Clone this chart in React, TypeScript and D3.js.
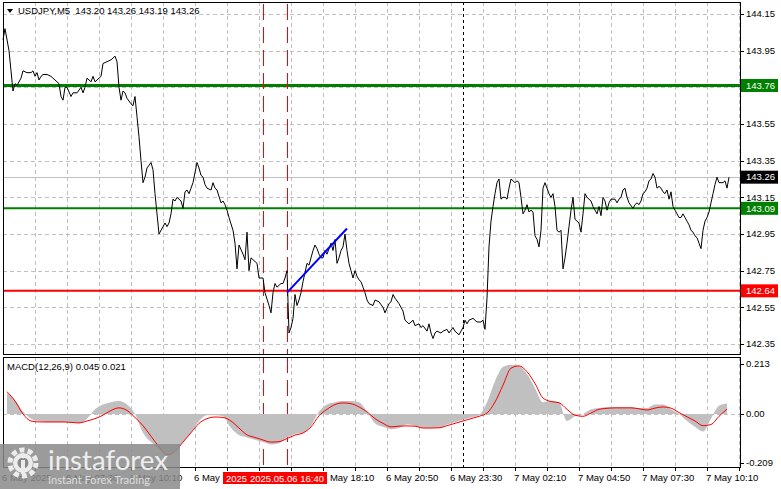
import React from "react"
import * as d3 from "d3"

// M5 bars counted from 6 May 2025 04:50, [bar, close]
const priceSeries: [number, number][] = [
  [0, 144.01], [1, 144.07], [3, 143.95], [4, 143.84], [5, 143.73], [6, 143.77], [7, 143.76], [9, 143.80],
  [10, 143.84], [12, 143.83], [14, 143.83], [15, 143.84], [16, 143.81], [17, 143.83], [18, 143.79], [19, 143.81],
  [20, 143.82], [22, 143.82], [24, 143.81], [25, 143.80], [27, 143.78], [28, 143.77], [29, 143.70], [30, 143.68],
  [31, 143.75], [32, 143.75], [34, 143.70], [35, 143.72], [37, 143.72], [39, 143.75], [40, 143.72], [41, 143.75],
  [42, 143.80], [44, 143.78], [45, 143.81], [46, 143.78], [48, 143.80], [49, 143.81], [50, 143.88], [52, 143.89],
  [54, 143.90], [55, 143.91], [56, 143.92], [57, 143.89], [58, 143.75], [59, 143.68], [60, 143.73], [61, 143.72],
  [62, 143.69], [64, 143.66], [65, 143.65], [66, 143.70], [67, 143.59], [68, 143.48], [69, 143.35], [70, 143.23],
  [71, 143.26], [72, 143.31], [74, 143.34], [75, 143.30], [76, 143.17], [77, 143.06], [78, 142.95], [80, 142.99],
  [81, 143.01], [82, 142.99], [83, 143.01], [84, 143.06], [85, 143.14], [86, 143.13], [87, 143.15], [89, 143.13],
  [90, 143.09], [91, 143.18], [92, 143.19], [93, 143.17], [94, 143.20], [95, 143.23], [97, 143.34], [98, 143.31],
  [99, 143.27], [100, 143.26], [101, 143.22], [102, 143.20], [104, 143.19], [105, 143.23], [106, 143.20], [107, 143.19],
  [109, 143.12], [110, 143.13], [111, 143.11], [112, 143.08], [113, 143.04], [115, 142.97], [116, 142.90], [117, 142.76],
  [118, 142.89], [120, 142.84], [121, 142.81], [122, 142.96], [123, 142.75], [124, 142.82], [125, 142.81], [127, 142.79],
  [128, 142.71], [130, 142.71], [131, 142.63], [133, 142.56], [134, 142.52], [135, 142.63], [136, 142.68], [137, 142.66],
  [139, 142.68], [140, 142.68], [141, 142.71], [142, 142.75], [143, 142.41], [144, 142.44], [145, 142.49], [146, 142.62],
  [147, 142.56], [148, 142.59], [149, 142.63], [150, 142.69], [151, 142.74], [152, 142.79], [153, 142.78], [154, 142.82],
  [155, 142.86], [156, 142.89], [157, 142.87], [158, 142.84], [159, 142.82], [160, 142.82], [161, 142.86], [162, 142.84],
  [163, 142.87], [164, 142.90], [165, 142.86], [166, 142.92], [167, 142.79], [168, 142.82], [169, 142.86], [170, 142.88],
  [171, 142.95], [172, 142.86], [173, 142.79], [174, 142.75], [175, 142.71], [176, 142.75], [177, 142.72], [178, 142.70],
  [179, 142.69], [180, 142.66], [181, 142.63], [182, 142.59], [183, 142.57], [185, 142.56], [186, 142.59], [188, 142.58],
  [190, 142.55], [191, 142.52], [193, 142.57], [194, 142.58], [195, 142.62], [196, 142.60], [198, 142.57], [200, 142.53],
  [201, 142.48], [203, 142.46], [205, 142.48], [206, 142.45], [208, 142.46], [209, 142.44], [210, 142.45], [212, 142.42],
  [213, 142.46], [214, 142.41], [215, 142.38], [216, 142.41], [217, 142.42], [219, 142.41], [220, 142.42], [222, 142.43],
  [223, 142.41], [225, 142.44], [226, 142.42], [228, 142.40], [229, 142.42], [230, 142.44], [231, 142.48], [232, 142.46],
  [233, 142.48], [235, 142.49], [237, 142.47], [239, 142.47], [240, 142.48], [241, 142.43], [242, 142.60], [243, 142.88],
  [244, 143.02], [245, 143.10], [246, 143.17], [247, 143.23], [248, 143.25], [249, 143.14], [250, 143.15], [251, 143.15],
  [252, 143.14], [253, 143.20], [254, 143.25], [255, 143.24], [256, 143.23], [257, 143.24], [258, 143.23], [259, 143.15],
  [260, 143.06], [261, 143.08], [262, 143.11], [263, 143.07], [264, 143.08], [265, 143.07], [266, 142.94], [267, 142.92],
  [268, 142.88], [269, 142.97], [270, 143.20], [271, 143.23], [272, 143.20], [273, 143.17], [274, 143.15], [275, 143.17],
  [276, 143.10], [277, 142.97], [278, 142.96], [279, 142.97], [280, 142.76], [281, 142.82], [282, 142.90], [283, 142.99],
  [284, 143.08], [285, 143.15], [286, 143.03], [287, 143.02], [288, 143.01], [289, 142.96], [290, 143.06], [291, 143.17],
  [292, 143.15], [293, 143.14], [294, 143.13], [295, 143.10], [296, 143.08], [297, 143.06], [298, 143.10], [299, 143.05],
  [300, 143.15], [301, 143.13], [302, 143.08], [303, 143.12], [304, 143.14], [305, 143.14], [306, 143.14], [307, 143.12],
  [308, 143.14], [309, 143.15], [310, 143.19], [311, 143.20], [312, 143.15], [313, 143.12], [315, 143.09], [316, 143.11],
  [317, 143.12], [318, 143.11], [319, 143.13], [320, 143.17], [321, 143.18], [322, 143.20], [323, 143.24], [324, 143.25],
  [325, 143.28], [326, 143.26], [327, 143.20], [328, 143.21], [329, 143.20], [330, 143.18], [331, 143.17], [332, 143.19],
  [333, 143.14], [334, 143.18], [335, 143.10], [336, 143.08], [337, 143.06], [338, 143.04], [339, 143.04], [340, 143.06],
  [341, 143.04], [342, 143.02], [343, 143.00], [344, 142.97], [345, 142.96], [346, 142.94], [347, 142.93], [348, 142.90],
  [349, 142.87], [350, 142.97], [351, 143.02], [352, 143.04], [353, 143.07], [354, 143.12], [355, 143.17], [356, 143.22],
  [357, 143.26], [358, 143.23], [359, 143.23], [360, 143.23], [361, 143.24], [362, 143.20], [363, 143.26],
]

// MACD(12,26,9), sampled every 4 bars starting at bar 2
const macdMain = [
  0.09, 0.06, 0.01, -0.02, -0.03, -0.035, -0.035, -0.035, -0.035, -0.04, -0.02, 0.02, 0.04, 0.05, 0.055, 0.04,
  0.0, -0.08, -0.12, -0.15, -0.17, -0.16, -0.12, -0.08, -0.03, -0.005, -0.005, -0.01, -0.06, -0.09, -0.10, -0.11,
  -0.12, -0.13, -0.125, -0.10, -0.085, -0.08, -0.05, 0.01, 0.04, 0.05, 0.055, 0.055, 0.05, 0.01, -0.04, -0.055,
  -0.065, -0.06, -0.045, -0.05, -0.06, -0.06, -0.06, -0.045, -0.035, -0.025, -0.015, -0.005, 0.05, 0.14, 0.20, 0.21,
  0.205, 0.17, 0.11, 0.05, 0.055, 0.05, -0.03, -0.01, 0.0, 0.02, 0.025, 0.03, 0.03, 0.03, 0.03, 0.025,
  0.025, 0.04, 0.04, 0.02, 0.0, -0.03, -0.055, -0.075, -0.02, 0.035, 0.045,
]
const macdSignal = [
  0.095, 0.055, 0.0, -0.03, -0.034, -0.034, -0.034, -0.034, -0.036, -0.038, -0.03, -0.02, -0.005, 0.015, 0.026, 0.015,
  -0.015, -0.05, -0.095, -0.14, -0.174, -0.16, -0.12, -0.08, -0.04, -0.02, -0.013, -0.015, -0.03, -0.06, -0.089, -0.10,
  -0.111, -0.12, -0.118, -0.105, -0.09, -0.081, -0.055, -0.008, 0.02, 0.04, 0.047, 0.044, 0.03, 0.009, -0.02, -0.04,
  -0.055, -0.052, -0.051, -0.052, -0.06, -0.06, -0.059, -0.05, -0.04, -0.03, -0.02, -0.01, 0.004, 0.051, 0.123, 0.195,
  0.205, 0.18, 0.13, 0.068, 0.053, 0.048, 0.02, -0.005, -0.01, 0.004, 0.02, 0.024, 0.026, 0.026, 0.026, 0.022,
  0.017, 0.025, 0.03, 0.025, 0.006, -0.012, -0.03, -0.05, -0.045, -0.01, 0.021,
]

const priceTicks = [142.35, 142.55, 142.75, 142.95, 143.15, 143.35, 143.55, 143.75, 143.95, 144.15]
const macdTicks = [0.213, 0, -0.209]
const timeLabels = [
  "6 May 2025", "6 May 07:30", "6 May 10:10", "6 May 12:50", "6 May 15:30", "6 May 18:10",
  "6 May 20:50", "6 May 23:30", "7 May 02:10", "7 May 04:50", "7 May 07:30", "7 May 10:10",
]
const supportLevels = [143.76, 143.09]
const entryLevel = 142.64
const lastPrice = 143.26
const ohlc = [143.20, 143.26, 143.19, 143.26]
const markerBars = [130, 142] // 15:40 and 16:40
const markerLabels = ["2025.05.06 15:40", "2025.05.06 16:40"]
const trendLine: [number, number][] = [[142, 142.63], [172, 142.98]]

const W = 781
const H = 489
const FONT = "'Liberation Sans', Arial, sans-serif"
const FS = 9.5
const start = new Date(2025, 4, 6, 4, 50)
const barTime = (b: number) => d3.timeMinute.offset(start, b * 5)

export default function App() {
  const left = 3, right = 740
  const x = d3.scaleTime().domain([start, barTime(369)]).range([left, 741])
  const y = d3.scaleLinear().domain([142.35, 144.15]).range([344, 14])
  const my = d3.scaleLinear().domain([-0.209, 0.213]).range([463, 364])
  const priceTop = 2, priceBottom = 354, macdTop = 357, macdBottom = 467

  const priceLine = d3.line<[number, number]>()
    .x(d => x(barTime(d[0])))
    .y(d => y(d[1]))
  const histArea = d3.area<number>()
    .x((d, i) => x(barTime(2 + i * 4)))
    .y0(my(0))
    .y1(d => my(d))
    .curve(d3.curveMonotoneX)
  const signalLine = d3.line<number>()
    .x((d, i) => x(barTime(2 + i * 4)))
    .y(d => my(d))
    .curve(d3.curveMonotoneX)

  const gridX = d3.range(1, 24).map(k => x(barTime(k * 16)))
  const labelX = timeLabels.map((_, i) => x(barTime(i * 32)))
  const separatorX = x(new Date(2025, 4, 7, 0, 0))

  const gridStyle = { stroke: "#c0c0c0", strokeDasharray: "4 3", strokeWidth: 1 }
  const px = (v: number) => Math.round(v) + 0.5

  const priceLabel = (p: number, bg: string, key: string) => (
    <g key={key}>
      <rect x={741} y={y(p) - 6.5} width={37} height={13} fill={bg} />
      <text x={746} y={y(p)} dy="0.35em" fill="#fff" fontSize={FS}>{p.toFixed(2)}</text>
    </g>
  )

  return (
    <svg width={W} height={H} style={{ position: "absolute", left: 0, top: 0, background: "#fff" }}
      fontFamily={FONT}>
      <rect width={W} height={H} fill="#fff" />

      {/* grid */}
      {priceTicks.map(t => (
        <line key={"gy" + t} x1={left} x2={right} y1={px(y(t))} y2={px(y(t))} {...gridStyle} />
      ))}
      {gridX.map((gx, i) => (
        <g key={"gx" + i}>
          <line x1={px(gx)} x2={px(gx)} y1={priceTop} y2={priceBottom} {...gridStyle} />
          <line x1={px(gx)} x2={px(gx)} y1={macdTop} y2={macdBottom} {...gridStyle} />
        </g>
      ))}
      <line x1={left} x2={right} y1={px(my(0))} y2={px(my(0))} {...gridStyle} />

      {/* current price line */}
      <line x1={left} x2={right} y1={px(y(lastPrice))} y2={px(y(lastPrice))} stroke="#c0c0c0" />

      {/* horizontal levels */}
      <line x1={left} x2={right} y1={y(supportLevels[0])} y2={y(supportLevels[0])} stroke="#008000" strokeWidth={3} />
      <line x1={left} x2={right} y1={y(supportLevels[1])} y2={y(supportLevels[1])} stroke="#008000" strokeWidth={2} />
      <line x1={left} x2={right} y1={y(entryLevel)} y2={y(entryLevel)} stroke="#ff0000" strokeWidth={2} />

      {/* vertical markers */}
      {markerBars.map(b => (
        <g key={"m" + b}>
          <line x1={px(x(barTime(b)))} x2={px(x(barTime(b)))} y1={priceTop + 2} y2={priceBottom}
            stroke="#ff0000" strokeDasharray="16 7" />
          <line x1={px(x(barTime(b)))} x2={px(x(barTime(b)))} y1={macdTop} y2={macdBottom}
            stroke="#ff0000" strokeDasharray="16 7" />
        </g>
      ))}
      <line x1={px(separatorX)} x2={px(separatorX)} y1={priceTop} y2={priceBottom} stroke="#000" strokeDasharray="3 3" />
      <line x1={px(separatorX)} x2={px(separatorX)} y1={macdTop} y2={macdBottom} stroke="#000" strokeDasharray="3 3" />

      {/* price */}
      <path d={priceLine(priceSeries) || ""} fill="none" stroke="#000" strokeWidth={1} />
      <line x1={x(barTime(trendLine[0][0]))} y1={y(trendLine[0][1])} x2={x(barTime(trendLine[1][0]))} y2={y(trendLine[1][1])}
        stroke="#0000ff" strokeWidth={2} />

      {/* MACD */}
      <path d={histArea(macdMain) || ""} fill="#c0c0c0" />
      <path d={signalLine(macdSignal) || ""} fill="none" stroke="#ff0000" strokeWidth={1} />

      {/* frames */}
      <rect x={left + 0.5} y={priceTop + 0.5} width={right - left} height={priceBottom - priceTop} fill="none" stroke="#000" />
      <rect x={left + 0.5} y={macdTop + 0.5} width={right - left} height={macdBottom - macdTop} fill="none" stroke="#000" />

      {/* right price axis */}
      {priceTicks.map(t => (
        <g key={"pt" + t}>
          <line x1={right} x2={right + 4} y1={px(y(t))} y2={px(y(t))} stroke="#000" />
          <text x={746} y={y(t)} dy="0.35em" fontSize={FS} fill="#000">{t.toFixed(2)}</text>
        </g>
      ))}
      {priceLabel(supportLevels[0], "#008000", "l1")}
      {priceLabel(lastPrice, "#000", "l2")}
      {priceLabel(supportLevels[1], "#008000", "l3")}
      {priceLabel(entryLevel, "#ff0000", "l4")}

      {/* macd axis */}
      {macdTicks.map(t => (
        <g key={"mt" + t}>
          <line x1={right} x2={right + 4} y1={px(my(t))} y2={px(my(t))} stroke="#000" />
          <text x={746} y={my(t)} dy="0.35em" fontSize={FS} fill="#000">
            {t === 0 ? "0.00" : t.toFixed(3)}
          </text>
        </g>
      ))}

      {/* time axis */}
      {gridX.map((gx, i) => (
        <line key={"tk" + i} x1={px(gx)} x2={px(gx)} y1={macdBottom} y2={macdBottom + 4} stroke="#000" />
      ))}
      {timeLabels.map((l, i) => (
        <text key={"tl" + i} x={labelX[i] - 1} y={481} fontSize={FS} fill="#000">{l}</text>
      ))}
      {markerBars.map((b, i) => (
        <g key={"ml" + b}>
          <rect x={x(barTime(b)) - 40} y={472} width={80} height={12} fill="#ff0000" />
          <text x={x(barTime(b))} y={481.5} textAnchor="middle" fontSize={FS} fill="#fff">{markerLabels[i]}</text>
        </g>
      ))}

      {/* header */}
      <path d="M7,9 L13,9 L10,13 Z" fill="#000" />
      <text x={18} y={14} fontSize={FS} fill="#000" style={{ whiteSpace: "pre" }}>
        {"USDJPY,M5  " + ohlc.map(v => v.toFixed(2)).join(" ")}
      </text>
      <text x={7} y={370} fontSize={FS} fill="#000">
        {`MACD(12,26,9) ${macdMain[macdMain.length - 1].toFixed(3)} ${macdSignal[macdSignal.length - 1].toFixed(3)}`}
      </text>

      {/* watermark */}
      <g>
        <rect x={0} y={444} width={180} height={45} fill="#8a8a8a" opacity={0.85} />
        <circle cx={23} cy={463} r={13} fill="none" stroke="#ececec" strokeWidth={5} strokeDasharray="5 3.2" />
        <circle cx={23} cy={463} r={10} fill="#ececec" />
        <circle cx={23} cy={463} r={5.5} fill="#8a8a8a" />
        <rect x={21} y={460} width={4} height={14} fill="#ececec" />
        <circle cx={23} cy={456.5} r={2} fill="#ececec" />
        <text x={48} y={470} fontSize={27} fill="#eeeeee" fontFamily="Lato, 'Open Sans', sans-serif"
          textLength={120} lengthAdjust="spacingAndGlyphs">instaforex</text>
        <text x={48} y={484} fontSize={11.5} fill="#dddddd" fontFamily="Lato, 'Open Sans', sans-serif"
          textLength={102} lengthAdjust="spacingAndGlyphs">Instant Forex Trading</text>
      </g>
    </svg>
  )
}
